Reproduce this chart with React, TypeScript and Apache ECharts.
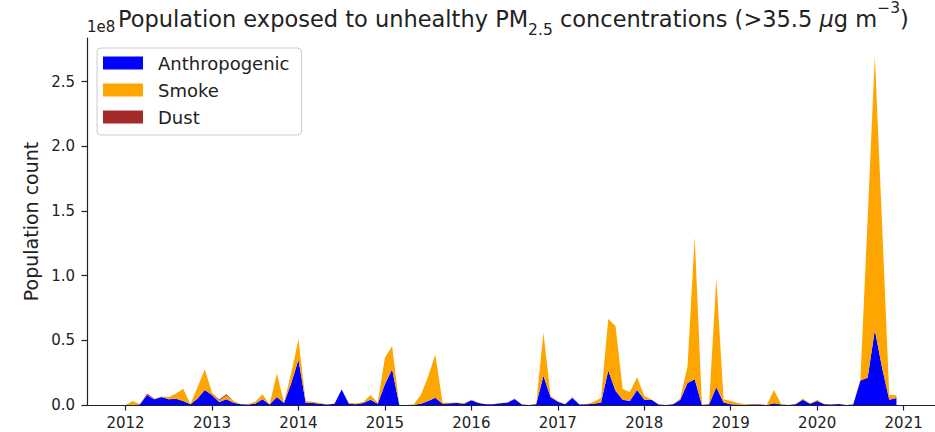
import React, { useEffect, useRef } from 'react';
import * as echarts from 'echarts';

const startYear = 2012;
const yearTicks = [2012, 2013, 2014, 2015, 2016, 2017, 2018, 2019, 2020, 2021];
const yTicks = [0, 0.5, 1.0, 1.5, 2.0, 2.5];
const seriesNames = ['Anthropogenic', 'Smoke', 'Dust'];

// monthly values, Jan 2012 .. Dec 2020, in units of 1e8 people
const anthropogenic = [
  0, 0, 0.005, 0.075, 0.045, 0.062, 0.044, 0.049, 0.03, 0.005, 0.05, 0.116,
  0.077, 0.023, 0.044, 0.018, 0.005, 0.003, 0.01, 0.044, 0.003, 0.062, 0.015, 0.17,
  0.35, 0.018, 0.015, 0.01, 0.003, 0.01, 0.12, 0.01, 0.005, 0.015, 0.04, 0.01,
  0.16, 0.276, 0, 0, 0.002, 0.01, 0.03, 0.057, 0.01, 0.013, 0.015, 0.01,
  0.036, 0.015, 0.005, 0.005, 0.013, 0.018, 0.046, 0.003, 0, 0.005, 0.227, 0.06,
  0.026, 0.005, 0.055, 0.003, 0.005, 0.01, 0.02, 0.266, 0.11, 0.04, 0.03, 0.116,
  0.04, 0.04, 0.003, 0, 0.005, 0.04, 0.17, 0.2, 0, 0.005, 0.137, 0.02,
  0.005, 0.003, 0.002, 0.002, 0.002, 0, 0.013, 0.003, 0, 0.005, 0.041, 0.01,
  0.03, 0.005, 0.003, 0.008, 0, 0.003, 0.19, 0.21, 0.58, 0.29, 0.04, 0.055,
];
const smoke = [
  0, 0.03, 0, 0, 0.005, 0.003, 0.018, 0.039, 0.096, 0.003, 0.09, 0.16,
  0.018, 0.012, 0.03, 0.012, 0, 0.002, 0.016, 0.039, 0.002, 0.181, 0.005, 0.08,
  0.158, 0.012, 0.011, 0.005, 0.001, 0.002, 0, 0.005, 0.008, 0.008, 0.037, 0.008,
  0.206, 0.181, 0, 0, 0.001, 0.07, 0.19, 0.333, 0.01, 0.005, 0.005, 0.005,
  0.004, 0.005, 0.001, 0.001, 0.002, 0.002, 0.004, 0.001, 0, 0.001, 0.333, 0.01,
  0.004, 0, 0.002, 0, 0, 0.016, 0.034, 0.4, 0.5, 0.084, 0.07, 0.098,
  0.03, 0.005, 0, 0, 0, 0.01, 0.13, 1.1, 0, 0.005, 0.843, 0.024,
  0.025, 0.012, 0.003, 0.001, 0.001, 0, 0.103, 0.002, 0, 0.001, 0.009, 0.002,
  0.01, 0.001, 0, 0, 0, 0, 0.01, 1.23, 2.12, 1.11, 0.04, 0.02,
];
const dust = [
  0, 0, 0, 0.012, 0, 0, 0, 0, 0, 0, 0, 0,
  0, 0.008, 0.01, 0, 0, 0, 0, 0, 0, 0, 0, 0,
  0, 0, 0, 0, 0, 0, 0, 0, 0, 0, 0, 0,
  0, 0, 0, 0, 0, 0, 0, 0, 0, 0, 0, 0,
  0, 0, 0, 0, 0, 0, 0, 0, 0, 0, 0, 0,
  0, 0, 0.003, 0, 0, 0, 0, 0, 0, 0, 0, 0,
  0, 0, 0, 0, 0, 0, 0, 0, 0, 0, 0, 0,
  0, 0, 0, 0.005, 0.004, 0, 0, 0, 0, 0, 0, 0,
  0, 0, 0, 0, 0, 0, 0, 0, 0, 0, 0, 0,
];

const FONT = 'DejaVu Sans';
const TXT = '#222222';

// decimal-year position of month i
const monthX = (i: number) => startYear + i / 12;
// value first so that the stack is computed on the value dimension
const toPoints = (vals: number[]) => vals.map((v, i) => [v, monthX(i)]);

export default function App() {
  const ref = useRef<HTMLDivElement>(null);
  useEffect(() => {
    if (!ref.current) return;
    const chart = echarts.init(ref.current, undefined, { renderer: 'svg' });
    const first = monthX(0);
    const last = monthX(anthropogenic.length - 1);
    const pad = (last - first) * 0.05;
    const mk = (name: string, vals: number[], color: string) => ({
      name,
      type: 'line',
      stack: 'total',
      data: toPoints(vals),
      encode: { x: 1, y: 0 },
      symbol: 'none',
      showSymbol: false,
      lineStyle: { width: 0 },
      itemStyle: { color },
      areaStyle: { color, opacity: 1 },
      emphasis: { disabled: true },
    });
    chart.setOption({
      animation: false,
      title: {
        text: 'Population exposed to unhealthy PM{sub|2.5} concentrations (>35.5 {it|μ}g m{sup|−3})',
        left: 118,
        top: 0,
        padding: 0,
        textStyle: {
          fontFamily: FONT,
          fontSize: 22.5,
          fontWeight: 'normal',
          color: TXT,
          lineHeight: 38,
          rich: {
            sub: { fontFamily: FONT, fontSize: 15.5, color: TXT, verticalAlign: 'bottom', lineHeight: 25 },
            sup: { fontFamily: FONT, fontSize: 15.5, color: TXT, verticalAlign: 'top', lineHeight: 21 },
            it: { fontFamily: FONT, fontSize: 22.5, color: TXT, fontStyle: 'italic', lineHeight: 38 },
          },
        },
      },
      graphic: [
        {
          type: 'text',
          left: 87,
          top: 19,
          style: { text: '1e8', fontFamily: FONT, fontSize: 15, fill: TXT },
        },
      ],
      legend: {
        orient: 'vertical',
        left: 97,
        top: 48,
        icon: 'rect',
        itemWidth: 40,
        itemHeight: 13,
        itemGap: 7,
        padding: [5, 12, 8, 6],
        backgroundColor: 'rgba(255,255,255,0.8)',
        borderColor: '#cccccc',
        borderWidth: 1,
        borderRadius: 4,
        data: seriesNames,
        textStyle: { fontFamily: FONT, fontSize: 18, color: TXT, lineHeight: 20, padding: [0, 0, 0, 10] },
      },
      grid: { left: 87, right: 0, top: 38, bottom: 27, containLabel: false },
      xAxis: {
        type: 'value',
        min: first - pad,
        max: last + pad,
        z: 10,
        splitLine: { show: false },
        axisLine: { show: true, lineStyle: { color: TXT, width: 1.2 } },
        axisTick: { show: true, length: 5.5, lineStyle: { color: TXT, width: 1.2 }, customValues: yearTicks },
        axisLabel: {
          fontFamily: FONT,
          fontSize: 15,
          color: TXT,
          margin: 10,
          customValues: yearTicks,
          formatter: (v: number) => String(Math.round(v)),
        },
      },
      yAxis: {
        type: 'value',
        min: 0,
        max: 2.838,
        z: 10,
        name: 'Population count',
        nameLocation: 'middle',
        nameGap: 42,
        nameTextStyle: { fontFamily: FONT, fontSize: 19, color: TXT },
        splitLine: { show: false },
        axisLine: { show: true, lineStyle: { color: TXT, width: 1.2 } },
        axisTick: { show: true, length: 5.5, lineStyle: { color: TXT, width: 1.2 }, customValues: yTicks },
        axisLabel: {
          fontFamily: FONT,
          fontSize: 15,
          color: TXT,
          margin: 12,
          customValues: yTicks,
          formatter: (v: number) => v.toFixed(1),
        },
      },
      series: [
        mk(seriesNames[0], anthropogenic, '#0000ff'),
        mk(seriesNames[1], smoke, '#ffa500'),
        mk(seriesNames[2], dust, '#a52a2a'),
      ],
    });
    return () => chart.dispose();
  }, []);
  return (
    <div
      ref={ref}
      style={{ position: 'fixed', left: 0, top: 0, width: 935, height: 432, background: '#fff' }}
    />
  );
}
